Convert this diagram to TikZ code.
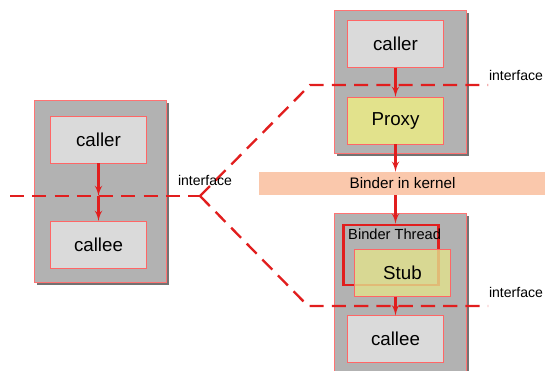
\documentclass[tikz,border=0pt]{standalone}
\usepackage{fontspec}
\setmainfont{Liberation Sans}
\usepackage{tikz}
\usetikzlibrary{arrows}
\usetikzlibrary{shadows}
\definecolor{ifred}{RGB}{225,30,30}
\definecolor{boxgray}{RGB}{178,178,178}
\definecolor{cellgray}{RGB}{218,218,218}
\definecolor{proxyyel}{RGB}{226,226,140}
\definecolor{kernelpink}{RGB}{250,200,172}
\tikzset{proc/.style = {draw = red!55, fill = boxgray, minimum width = 3.95cm,
    drop shadow = {shadow xshift = 0.08cm, shadow yshift = -0.08cm, fill = gray!90!black, opacity = 1}},
  cell/.style = {draw = red!60, fill = cellgray, minimum width = 2.88cm, minimum height = 1.4cm,
    font = \fontsize{16}{18}\selectfont},
  iface/.style = {draw = ifred, line width = 2pt, dash pattern = on 12pt off 7pt},
  call/.style = {draw = ifred, line width = 2pt, -latex'},
  lbl/.style = {font = \fontsize{12}{14}\selectfont}}

\begin{document}
\begin{tikzpicture}[x=0.03cm, y=-0.03cm]
      \useasboundingbox (0, 0) rectangle (545, 370);
      \begin{scope}
      \clip (0, 0) rectangle (545, 370);

      % left process
      \node [proc, minimum height = 5.46cm] (lproc) at (100.5, 191) {};
      \node [cell] (lcaller) at (98.5, 139.5) {caller};
      \node [cell] (lcallee) at (98.5, 244.5) {callee};

      % right upper process
      \node [proc, minimum height = 4.29cm] (uproc) at (400, 81.5) {};
      \node [cell] (rcaller) at (395.5, 44) {caller};
      \node [cell, fill = proxyyel] (proxy) at (395.5, 120.5) {Proxy};

      % kernel
      \node [fill = kernelpink, minimum width = 8.6cm, minimum height = 0.69cm,
        font = \fontsize{13}{15}\selectfont] (binder) at (402.5, 183.5) {Binder in kernel};

      % right lower process
      \node [proc, minimum height = 4.9cm] (dproc) at (400.5, 295) {};
      \node [draw = ifred, line width = 2.2pt, minimum width = 2.85cm, minimum height = 1.8cm] (thread) at (391, 255) {};
      \node [anchor = north west, inner sep = 0, font = \fontsize{12.5}{14}\selectfont] (tlabel) at (348, 229) {Binder Thread};
      \node [cell, fill = proxyyel, fill opacity = 0.8, text opacity = 1] (stub) at (402.5, 273) {Stub};
      \node [cell] (rcallee) at (395.5, 339) {callee};
      \end{scope}

      % interfaces
      \coordinate (fork) at (200, 196);
      \coordinate (lend) at (10, 196);
      \coordinate (ubend) at (310, 85);
      \coordinate (uend) at (488, 85);
      \coordinate (dbend) at (308, 306);
      \coordinate (dend) at (488, 306);
      \draw [iface] (lend) -- (fork);
      \draw [iface] (fork) -- (ubend) -- (uend);
      \draw [iface] (fork) -- (dbend) -- (dend);
      \node [lbl] (lif) at (205, 180) {interface};
      \node [lbl] (uif) at (516, 75) {interface};
      \node [lbl] (dif) at (516, 292) {interface};

      % calls
      \coordinate (lcross) at (lcaller.south |- fork);
      \draw [call] (lcaller) -- (lcross);
      \draw [call] (lcross) -- (lcallee);
      \draw [call] (rcaller) -- (proxy);
      \draw [call] (proxy) -- (binder.north -| proxy);
      \draw [call] (binder.south -| rcallee) -- (thread.north -| rcallee);
      \draw [call] (stub.south -| rcallee) -- (rcallee);
    \end{tikzpicture}
\end{document}
